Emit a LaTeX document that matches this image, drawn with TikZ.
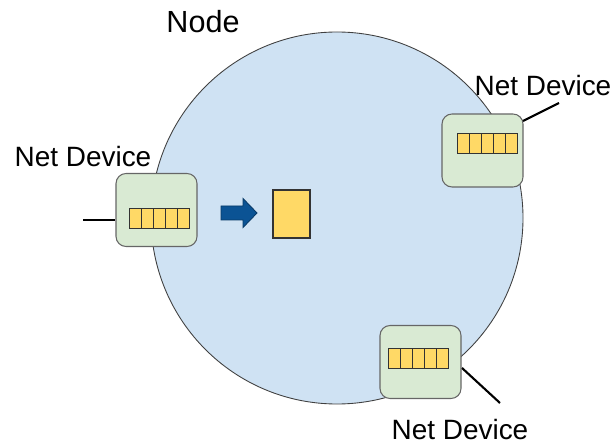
\documentclass[tikz,border=0pt]{standalone}
\usepackage{fontspec}
\setmainfont{Liberation Sans}
\definecolor{nodeblue}{HTML}{CFE2F3}
\definecolor{devgreen}{HTML}{D9EAD3}
\definecolor{pktyellow}{HTML}{FFD966}
\definecolor{arrowblue}{HTML}{0B5394}
\tikzset{
  device/.style={draw=black!60,fill=devgreen,rounded corners=0.2cm,
    minimum width=1.62cm,minimum height=1.46cm,inner sep=0pt,line width=0.6pt},
  slot/.style={draw=black!80,fill=pktyellow,minimum width=0.24cm,
    minimum height=0.4cm,inner sep=0pt,line width=0.5pt},
  label/.style={font=\fontsize{15.9}{19}\selectfont,inner sep=0pt},
  wire/.style={line width=1.2pt}
}
\begin{document}
\begin{tikzpicture}[x=0.02cm,y=-0.02cm]
\useasboundingbox (0,0) rectangle (614,445);

% the node
\fill[nodeblue] (337,218) circle (186);
\draw[black!75,line width=0.5pt] (337,218) circle (186);
\node[label,font=\fontsize{17.4}{21}\selectfont] (nodelbl) at (203,22) {Node};

% net devices
\node[device] (devleft) at (156.5,210) {};
\node[device] (devright) at (482.5,150.5) {};
\node[device] (devbottom) at (420.5,362) {};

% queues
\foreach \i in {0,...,4} {
  \node[slot] (qleft\i) at (135+12*\i,218) {};
  \node[slot] (qright\i) at (463+12*\i,143) {};
  \node[slot] (qbottom\i) at (394+12*\i,358.5) {};
}

% wires
\coordinate (endleft) at (83,220);
\coordinate (endright) at (559,103);
\coordinate (endbottom) at (500,403);
\draw[wire] (endleft) -- (devleft.west |- endleft);
\draw[wire] (523,121) -- (endright);
\draw[wire] (462,368) -- (endbottom);

\node[label] (lblleft) at (83,157) {Net Device};
\node[label] (lblright) at (543,86) {Net Device};
\node[label] (lblbottom) at (460,430) {Net Device};

% packet
\filldraw[fill=arrowblue,draw=arrowblue!70!black,line width=0.5pt]
  (221,206) -- (243,206) -- (243,198.5) -- (257,213) -- (243,227.5)
  -- (243,220) -- (221,220) -- cycle;
\node[draw=black!80,fill=pktyellow,minimum width=0.74cm,minimum height=0.96cm,
  inner sep=0pt,line width=0.6pt] (packet) at (291.5,214) {};
\end{tikzpicture}
\end{document}
